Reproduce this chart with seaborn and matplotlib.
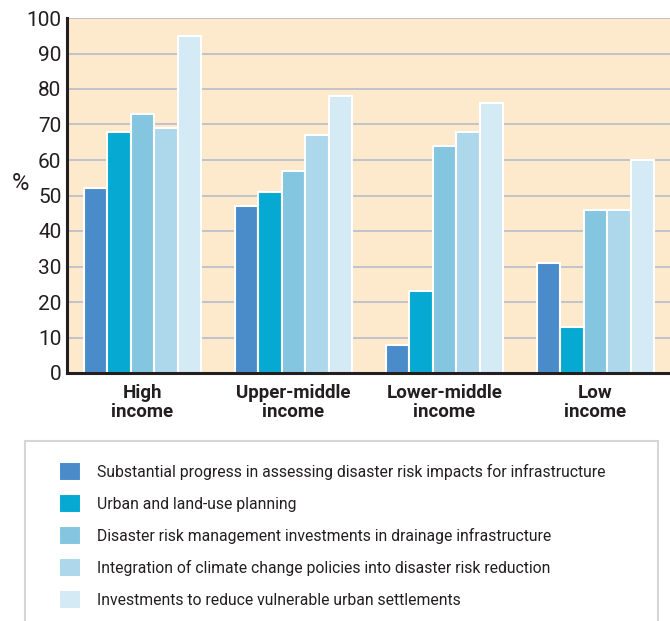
import pandas as pd
import numpy as np
import matplotlib
matplotlib.use('Agg')
import matplotlib.pyplot as plt
from matplotlib.patches import Rectangle
import seaborn as sns

groups = ['High\nincome', 'Upper-middle\nincome', 'Lower-middle\nincome', 'Low\nincome']
measures = ['Substantial progress in assessing disaster risk impacts for infrastructure',
            'Urban and land-use planning',
            'Disaster risk management investments in drainage infrastructure',
            'Integration of climate change policies into disaster risk reduction',
            'Investments to reduce vulnerable urban settlements']
progress = [52, 47, 8, 31]
land_use = [68, 51, 23, 13]
drainage = [73, 57, 64, 46]
climate = [69, 67, 68, 46]
settlements = [95, 78, 76, 60]
colors = ['#4a8cc9', '#05a9d1', '#84c5e0', '#add7ea', '#d4eaf5']

rows = []
for m, vals in zip(measures, [progress, land_use, drainage, climate, settlements]):
    for g, v in zip(groups, vals):
        rows.append({'group': g, 'measure': m, 'pct': v})
df = pd.DataFrame(rows)

sns.set_style('white')
plt.rcParams['font.family'] = ['Roboto', 'DejaVu Sans']

fig = plt.figure(figsize=(6.7, 6.21), dpi=100)
ax = fig.add_axes([67/670, 1 - 373/621, 604/670, 355/621])
ax.set_facecolor('#fde9cc')

sns.barplot(data=df, x='group', y='pct', hue='measure', palette=colors, saturation=1,
            width=0.775, edgecolor='white', linewidth=1.5, ax=ax, legend=True)

ax.set_ylim(0, 100)
ax.set_xlim(-0.5, 3.5)
ax.set_yticks(range(0, 101, 10))
ax.yaxis.grid(True, color='#b8bccb', linewidth=1.2)
ax.set_axisbelow(True)
ax.tick_params(axis='y', length=0, labelsize=15, pad=4, colors='#231f20')
ax.set_xticks([0.5, 1.5, 2.5], minor=True)
ax.tick_params(axis='x', which='major', length=0, pad=8)
ax.tick_params(axis='x', which='minor', length=6, width=2, color='#231f20')
for lbl in ax.get_xticklabels():
    lbl.set_fontweight('bold')
    lbl.set_fontsize(13.5)
    lbl.set_color('#231f20')
    lbl.set_linespacing(1.05)
for s in ['top', 'right']:
    ax.spines[s].set_visible(False)
for s in ['left', 'bottom']:
    ax.spines[s].set_color('#231f20')
    ax.spines[s].set_linewidth(2.2)
ax.set_xlabel('')
ax.set_ylabel('%', rotation=0, fontsize=17, color='#231f20')
ax.yaxis.set_label_coords(-0.077, 0.5)

handles, labels = ax.get_legend_handles_labels()
ax.get_legend().remove()

box_top = 1 - 441/621
fig.patches.append(Rectangle((25/670, -0.05), 633/670, box_top + 0.05,
                             transform=fig.transFigure, facecolor='white',
                             edgecolor='#d6d6d6', linewidth=1.5, zorder=0))
fig.legend(handles, labels, loc='upper left', bbox_to_anchor=(45/670, 1 - 448/621),
           frameon=False, fontsize=11.3, labelcolor='#231f20',
           handlelength=1.4, handleheight=1.5, handletextpad=1.0,
           labelspacing=0.82)

fig.savefig('out.png', dpi=100, facecolor='white')
